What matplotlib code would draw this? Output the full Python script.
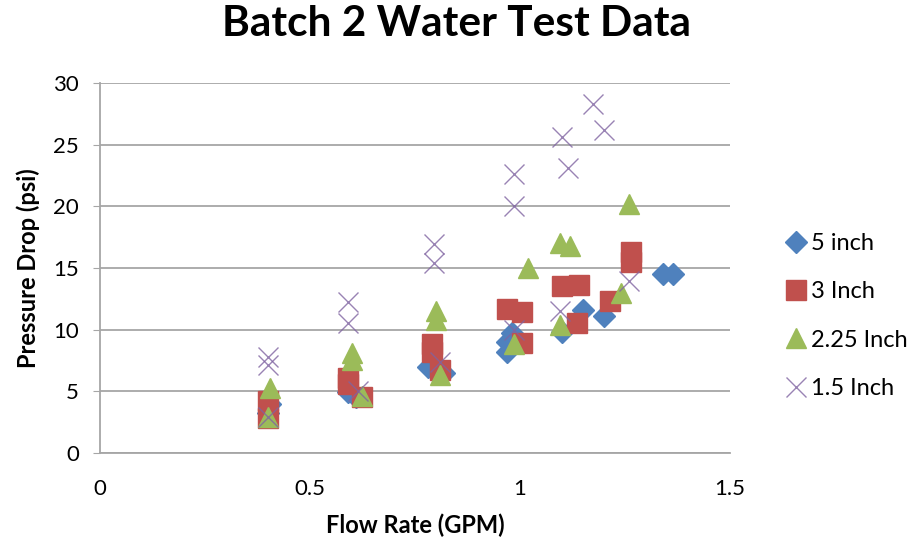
import matplotlib.pyplot as plt

# dados
x_5in = [0.40, 0.405, 0.59, 0.61, 0.78, 0.82, 0.97, 0.97, 0.98, 1.10, 1.15, 1.20, 1.34, 1.365]
y_5in = [3.2, 4.0, 4.9, 4.5, 7.0, 6.5, 8.2, 9.0, 9.7, 9.8, 11.6, 11.1, 14.5, 14.5]

x_3in = [0.40, 0.40, 0.59, 0.59, 0.625, 0.79, 0.79, 0.81, 0.97, 1.005, 1.005,
         1.10, 1.14, 1.135, 1.215, 1.265, 1.265]
y_3in = [4.2, 2.8, 6.1, 5.6, 4.5, 8.8, 8.2, 6.7, 11.7, 11.4, 8.9,
         13.5, 13.6, 10.5, 12.3, 16.3, 15.5]

x_225in = [0.405, 0.40, 0.60, 0.60, 0.625, 0.80, 0.80, 0.81, 0.985, 1.02,
           1.095, 1.12, 1.095, 1.24, 1.26]
y_225in = [5.3, 2.9, 8.1, 7.5, 4.6, 11.5, 10.8, 6.3, 8.8, 15.0,
           17.0, 16.8, 10.4, 13.0, 20.2]

x_15in = [0.40, 0.40, 0.40, 0.59, 0.59, 0.615, 0.795, 0.795, 0.81, 0.985, 0.985,
          0.985, 1.10, 1.115, 1.175, 1.20, 1.095, 1.26]
y_15in = [7.8, 7.1, 2.9, 12.2, 10.5, 5.0, 16.9, 15.4, 7.4, 22.6, 20.0,
          10.0, 25.6, 23.1, 28.3, 26.2, 11.5, 13.9]

fonte = ['Lato', 'DejaVu Sans']
plt.rcParams['font.family'] = fonte

fig = plt.figure(figsize=(9.13, 5.45), dpi=100)
ax = fig.add_axes([0.1095, 0.169, 0.690, 0.679])

ax.plot(x_5in, y_5in, 'D', color='#4F81BD', markersize=11, label='5 inch', linestyle='none')
ax.plot(x_3in, y_3in, 's', color='#C0504D', markersize=14, label='3 Inch', linestyle='none')
ax.plot(x_225in, y_225in, '^', color='#9BBB59', markersize=15, label='2.25 Inch', linestyle='none')
ax.plot(x_15in, y_15in, 'x', color='#8064A2', markersize=14, markeredgewidth=1.0,
        alpha=0.8, label='1.5 Inch', linestyle='none')

ax.set_xlim(0, 1.5)
ax.set_ylim(0, 30)
ax.set_xticks([0, 0.5, 1, 1.5])
ax.set_xticklabels(['0', '0.5', '1', '1.5'])
ax.set_yticks(range(0, 31, 5))

ax.grid(axis='y', color='#A6A6A6', linewidth=1.3)
ax.set_axisbelow(True)
for lado in ['top', 'right']:
    ax.spines[lado].set_visible(False)
for lado in ['left', 'bottom']:
    ax.spines[lado].set_color('#A6A6A6')
    ax.spines[lado].set_linewidth(1.3)
ax.tick_params(axis='y', length=5, color='#A6A6A6', labelsize=16, pad=10)
ax.tick_params(axis='x', length=0, labelsize=16, pad=19)

ax.set_xlabel('Flow Rate (GPM)', fontsize=17, fontweight='bold', labelpad=10)
ax.set_ylabel('Pressure Drop (psi)', fontsize=17, fontweight='bold', labelpad=10)
fig.suptitle('Batch 2 Water Test Data', fontsize=30.5, fontweight='bold', y=0.99)

ax.legend(loc='center left', bbox_to_anchor=(1.05, 0.37), frameon=False,
          fontsize=17, labelspacing=1.16, handletextpad=0.1, handlelength=1.1)

fig.savefig('out.png', dpi=100)
